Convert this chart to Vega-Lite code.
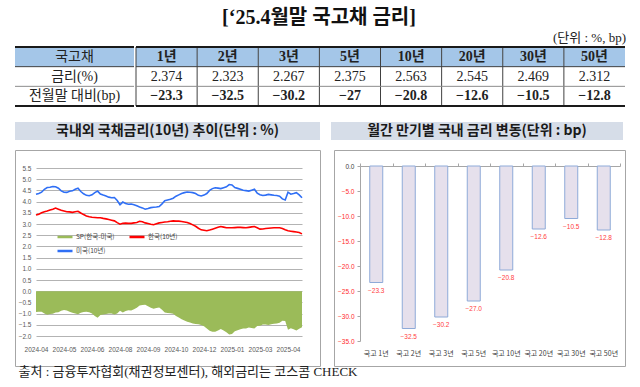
{
  "$schema": "https://vega.github.io/schema/vega-lite/v6.json",
  "background": "white",
  "padding": {"left": 14, "right": 18, "top": 0, "bottom": 0},
  "config": {"view": {"stroke": null}, "font": "Noto Sans CJK KR"},
  "datasets": {
    "rows": [{"r": "국고채"}, {"r": "금리(%)"}, {"r": "전월말 대비(bp)"}],
    "rates": [
      {"m": "1년", "rate": 2.374, "bp": -23.3},
      {"m": "2년", "rate": 2.323, "bp": -32.5},
      {"m": "3년", "rate": 2.267, "bp": -30.2},
      {"m": "5년", "rate": 2.375, "bp": -27},
      {"m": "10년", "rate": 2.563, "bp": -20.8},
      {"m": "20년", "rate": 2.545, "bp": -12.6},
      {"m": "30년", "rate": 2.469, "bp": -10.5},
      {"m": "50년", "rate": 2.312, "bp": -12.8}
    ],
    "ts": [
      {"d": "2024-04-01", "kr": 3.40, "us": 4.33, "sp": -0.93},
      {"d": "2024-04-05", "kr": 3.44, "us": 4.36, "sp": -0.92},
      {"d": "2024-04-09", "kr": 3.50, "us": 4.42, "sp": -0.92},
      {"d": "2024-04-13", "kr": 3.55, "us": 4.55, "sp": -1.00},
      {"d": "2024-04-18", "kr": 3.58, "us": 4.63, "sp": -1.05},
      {"d": "2024-04-22", "kr": 3.62, "us": 4.64, "sp": -1.02},
      {"d": "2024-04-26", "kr": 3.66, "us": 4.67, "sp": -1.01},
      {"d": "2024-04-30", "kr": 3.71, "us": 4.66, "sp": -0.95},
      {"d": "2024-05-04", "kr": 3.66, "us": 4.60, "sp": -0.94},
      {"d": "2024-05-08", "kr": 3.61, "us": 4.48, "sp": -0.87},
      {"d": "2024-05-12", "kr": 3.58, "us": 4.42, "sp": -0.84},
      {"d": "2024-05-17", "kr": 3.55, "us": 4.41, "sp": -0.86},
      {"d": "2024-05-21", "kr": 3.54, "us": 4.46, "sp": -0.92},
      {"d": "2024-05-25", "kr": 3.52, "us": 4.48, "sp": -0.96},
      {"d": "2024-05-29", "kr": 3.55, "us": 4.55, "sp": -1.00},
      {"d": "2024-06-02", "kr": 3.57, "us": 4.60, "sp": -1.03},
      {"d": "2024-06-06", "kr": 3.49, "us": 4.45, "sp": -0.96},
      {"d": "2024-06-10", "kr": 3.42, "us": 4.35, "sp": -0.93},
      {"d": "2024-06-15", "kr": 3.36, "us": 4.28, "sp": -0.92},
      {"d": "2024-06-19", "kr": 3.32, "us": 4.26, "sp": -0.94},
      {"d": "2024-06-23", "kr": 3.30, "us": 4.30, "sp": -1.00},
      {"d": "2024-06-27", "kr": 3.29, "us": 4.40, "sp": -1.11},
      {"d": "2024-07-01", "kr": 3.28, "us": 4.47, "sp": -1.19},
      {"d": "2024-07-05", "kr": 3.28, "us": 4.34, "sp": -1.06},
      {"d": "2024-07-10", "kr": 3.25, "us": 4.29, "sp": -1.04},
      {"d": "2024-07-14", "kr": 3.23, "us": 4.25, "sp": -1.02},
      {"d": "2024-07-18", "kr": 3.20, "us": 4.20, "sp": -1.00},
      {"d": "2024-07-22", "kr": 3.17, "us": 4.17, "sp": -1.00},
      {"d": "2024-07-26", "kr": 3.14, "us": 4.18, "sp": -1.04},
      {"d": "2024-07-30", "kr": 3.06, "us": 4.05, "sp": -0.99},
      {"d": "2024-08-03", "kr": 2.99, "us": 3.86, "sp": -0.87},
      {"d": "2024-08-08", "kr": 3.03, "us": 3.98, "sp": -0.95},
      {"d": "2024-08-12", "kr": 3.04, "us": 3.92, "sp": -0.88},
      {"d": "2024-08-16", "kr": 3.03, "us": 3.88, "sp": -0.85},
      {"d": "2024-08-20", "kr": 3.03, "us": 3.89, "sp": -0.86},
      {"d": "2024-08-24", "kr": 3.05, "us": 3.86, "sp": -0.81},
      {"d": "2024-08-28", "kr": 3.07, "us": 3.81, "sp": -0.74},
      {"d": "2024-09-01", "kr": 3.12, "us": 3.76, "sp": -0.64},
      {"d": "2024-09-06", "kr": 3.10, "us": 3.72, "sp": -0.62},
      {"d": "2024-09-10", "kr": 3.05, "us": 3.66, "sp": -0.61},
      {"d": "2024-09-14", "kr": 3.02, "us": 3.69, "sp": -0.67},
      {"d": "2024-09-18", "kr": 2.99, "us": 3.73, "sp": -0.74},
      {"d": "2024-09-22", "kr": 2.97, "us": 3.75, "sp": -0.78},
      {"d": "2024-09-26", "kr": 3.01, "us": 3.76, "sp": -0.75},
      {"d": "2024-09-30", "kr": 3.05, "us": 3.78, "sp": -0.73},
      {"d": "2024-10-05", "kr": 3.07, "us": 3.90, "sp": -0.83},
      {"d": "2024-10-09", "kr": 3.09, "us": 4.04, "sp": -0.95},
      {"d": "2024-10-13", "kr": 3.10, "us": 4.07, "sp": -0.97},
      {"d": "2024-10-17", "kr": 3.12, "us": 4.10, "sp": -0.98},
      {"d": "2024-10-21", "kr": 3.14, "us": 4.15, "sp": -1.01},
      {"d": "2024-10-25", "kr": 3.13, "us": 4.24, "sp": -1.11},
      {"d": "2024-10-29", "kr": 3.13, "us": 4.30, "sp": -1.17},
      {"d": "2024-11-03", "kr": 3.11, "us": 4.36, "sp": -1.25},
      {"d": "2024-11-07", "kr": 3.09, "us": 4.40, "sp": -1.31},
      {"d": "2024-11-11", "kr": 3.07, "us": 4.43, "sp": -1.36},
      {"d": "2024-11-15", "kr": 3.02, "us": 4.42, "sp": -1.40},
      {"d": "2024-11-19", "kr": 2.96, "us": 4.40, "sp": -1.44},
      {"d": "2024-11-23", "kr": 2.90, "us": 4.36, "sp": -1.46},
      {"d": "2024-11-28", "kr": 2.81, "us": 4.28, "sp": -1.47},
      {"d": "2024-12-02", "kr": 2.74, "us": 4.25, "sp": -1.51},
      {"d": "2024-12-06", "kr": 2.72, "us": 4.29, "sp": -1.57},
      {"d": "2024-12-10", "kr": 2.70, "us": 4.36, "sp": -1.66},
      {"d": "2024-12-14", "kr": 2.73, "us": 4.50, "sp": -1.77},
      {"d": "2024-12-18", "kr": 2.77, "us": 4.58, "sp": -1.81},
      {"d": "2024-12-22", "kr": 2.81, "us": 4.62, "sp": -1.81},
      {"d": "2024-12-27", "kr": 2.85, "us": 4.60, "sp": -1.75},
      {"d": "2024-12-31", "kr": 2.89, "us": 4.58, "sp": -1.69},
      {"d": "2025-01-04", "kr": 2.86, "us": 4.62, "sp": -1.76},
      {"d": "2025-01-08", "kr": 2.83, "us": 4.66, "sp": -1.83},
      {"d": "2025-01-12", "kr": 2.83, "us": 4.76, "sp": -1.93},
      {"d": "2025-01-16", "kr": 2.83, "us": 4.74, "sp": -1.91},
      {"d": "2025-01-20", "kr": 2.84, "us": 4.63, "sp": -1.79},
      {"d": "2025-01-25", "kr": 2.85, "us": 4.59, "sp": -1.74},
      {"d": "2025-01-29", "kr": 2.85, "us": 4.55, "sp": -1.70},
      {"d": "2025-02-03", "kr": 2.84, "us": 4.51, "sp": -1.67},
      {"d": "2025-02-07", "kr": 2.83, "us": 4.49, "sp": -1.66},
      {"d": "2025-02-12", "kr": 2.85, "us": 4.47, "sp": -1.62},
      {"d": "2025-02-16", "kr": 2.87, "us": 4.51, "sp": -1.64},
      {"d": "2025-02-21", "kr": 2.89, "us": 4.55, "sp": -1.66},
      {"d": "2025-02-25", "kr": 2.83, "us": 4.38, "sp": -1.55},
      {"d": "2025-03-02", "kr": 2.77, "us": 4.31, "sp": -1.54},
      {"d": "2025-03-06", "kr": 2.78, "us": 4.27, "sp": -1.49},
      {"d": "2025-03-10", "kr": 2.80, "us": 4.29, "sp": -1.49},
      {"d": "2025-03-14", "kr": 2.81, "us": 4.32, "sp": -1.51},
      {"d": "2025-03-18", "kr": 2.82, "us": 4.30, "sp": -1.48},
      {"d": "2025-03-22", "kr": 2.83, "us": 4.28, "sp": -1.45},
      {"d": "2025-03-26", "kr": 2.83, "us": 4.27, "sp": -1.44},
      {"d": "2025-03-30", "kr": 2.83, "us": 4.24, "sp": -1.41},
      {"d": "2025-04-02", "kr": 2.80, "us": 4.12, "sp": -1.32},
      {"d": "2025-04-06", "kr": 2.74, "us": 4.07, "sp": -1.33},
      {"d": "2025-04-10", "kr": 2.70, "us": 4.42, "sp": -1.72},
      {"d": "2025-04-14", "kr": 2.68, "us": 4.33, "sp": -1.65},
      {"d": "2025-04-18", "kr": 2.66, "us": 4.36, "sp": -1.70},
      {"d": "2025-04-22", "kr": 2.64, "us": 4.40, "sp": -1.76},
      {"d": "2025-04-26", "kr": 2.62, "us": 4.30, "sp": -1.68},
      {"d": "2025-04-30", "kr": 2.56, "us": 4.17, "sp": -1.61}
    ]
  },
  "vconcat": [
    {
      "vconcat": [
        {
          "width": 608, "height": 30,
          "data": {"values": [{"t": "[‘25.4월말 국고채 금리]"}]},
          "mark": {"type": "text", "font": "Liberation Serif, Noto Sans CJK KR", "fontSize": 20, "fontWeight": "bold", "color": "#111", "dy": 3},
          "encoding": {"text": {"field": "t"}}
        },
        {
          "width": 608, "height": 16,
          "data": {"values": [{"t": "(단위 : %, bp)"}]},
          "mark": {"type": "text", "font": "Liberation Serif, Noto Sans CJK KR", "fontSize": 13, "align": "right", "color": "#222", "dx": 3},
          "encoding": {"text": {"field": "t"}, "x": {"value": "width"}}
        },
        {
          "hconcat": [
            {
              "width": 119, "height": 59,
              "data": {"name": "rows"},
              "layer": [
                {
                  "transform": [{"filter": "datum.r === '국고채'"}],
                  "mark": {"type": "rect", "fill": "#a4c6e8"},
                  "encoding": {
                    "y": {"field": "r", "type": "nominal", "sort": null, "axis": null, "scale": {"type": "band", "domain": ["국고채", "금리(%)", "전월말 대비(bp)"], "paddingInner": 0, "paddingOuter": 0}},
                    "x": {"value": 0}, "x2": {"value": "width"}
                  }
                },
                {
                  "mark": {"type": "text", "font": "Liberation Serif, Noto Sans CJK KR", "fontSize": 14, "color": "#222"},
                  "encoding": {
                    "y": {"field": "r", "type": "nominal", "sort": null},
                    "text": {"field": "r"},
                    "fontWeight": {"condition": {"test": "datum.r === '국고채'", "value": "bold"}, "value": "normal"}
                  }
                },
                {
                  "mark": {"type": "rule"},
                  "encoding": {
                    "y": {"field": "r", "type": "nominal", "sort": null, "bandPosition": 0},
                    "strokeWidth": {"condition": {"test": "datum.r === '국고채'", "value": 2}, "value": 1},
                    "color": {"condition": [{"test": "datum.r === '국고채'", "value": "#1a1a1a"}, {"test": "datum.r === '금리(%)'", "value": "#404040"}], "value": "#8c8c8c"}
                  }
                },
                {
                  "transform": [{"filter": "datum.r === '전월말 대비(bp)'"}],
                  "mark": {"type": "rule", "strokeWidth": 2, "color": "#1a1a1a"},
                  "encoding": {"y": {"field": "r", "type": "nominal", "sort": null, "bandPosition": 1}}
                }
              ]
            },
            {
              "width": 489, "height": 59,
              "layer": [
                {
                  "data": {"name": "rates"},
                  "mark": {"type": "rect", "fill": "#a4c6e8"},
                  "encoding": {
                    "x": {"field": "m", "type": "nominal", "sort": null, "axis": null, "scale": {"type": "band", "paddingInner": 0, "paddingOuter": 0}},
                    "y": {"datum": "국고채", "type": "nominal", "axis": null, "scale": {"type": "band", "domain": ["국고채", "금리(%)", "전월말 대비(bp)"], "paddingInner": 0, "paddingOuter": 0}}
                  }
                },
                {
                  "data": {"name": "rates"},
                  "mark": {"type": "text", "font": "Liberation Serif, Noto Sans CJK KR", "fontSize": 14, "fontWeight": "bold", "color": "#222"},
                  "encoding": {
                    "x": {"field": "m", "type": "nominal", "sort": null},
                    "y": {"datum": "국고채", "type": "nominal"},
                    "text": {"field": "m"}
                  }
                },
                {
                  "data": {"name": "rates"},
                  "mark": {"type": "text", "font": "Liberation Serif", "fontSize": 14, "color": "#222"},
                  "encoding": {
                    "x": {"field": "m", "type": "nominal", "sort": null},
                    "y": {"datum": "금리(%)", "type": "nominal"},
                    "text": {"field": "rate", "type": "quantitative", "format": ".3f"}
                  }
                },
                {
                  "data": {"name": "rates"},
                  "mark": {"type": "text", "font": "Liberation Serif", "fontSize": 14, "fontWeight": "bold", "color": "#222"},
                  "encoding": {
                    "x": {"field": "m", "type": "nominal", "sort": null},
                    "y": {"datum": "전월말 대비(bp)", "type": "nominal"},
                    "text": {"field": "bp", "type": "quantitative", "format": "~g"}
                  }
                },
                {
                  "data": {"name": "rates"},
                  "mark": {"type": "rule", "color": "#404040", "strokeWidth": 1},
                  "encoding": {"x": {"field": "m", "type": "nominal", "sort": null, "bandPosition": 0}}
                },
                {
                  "data": {"name": "rows"},
                  "mark": {"type": "rule"},
                  "encoding": {
                    "y": {"field": "r", "type": "nominal", "sort": null, "bandPosition": 0},
                    "strokeWidth": {"condition": {"test": "datum.r === '국고채'", "value": 2}, "value": 1},
                    "color": {"condition": [{"test": "datum.r === '국고채'", "value": "#1a1a1a"}, {"test": "datum.r === '금리(%)'", "value": "#404040"}], "value": "#8c8c8c"}
                  }
                },
                {
                  "data": {"name": "rows"},
                  "transform": [{"filter": "datum.r === '전월말 대비(bp)'"}],
                  "mark": {"type": "rule", "strokeWidth": 2, "color": "#1a1a1a"},
                  "encoding": {"y": {"field": "r", "type": "nominal", "sort": null, "bandPosition": 1}}
                }
              ]
            }
          ],
          "spacing": 0
        }
      ],
      "spacing": 0
    },
    {
      "vconcat": [
        {
          "hconcat": [
            {
              "width": 305, "height": 18,
              "view": {"fill": "#d6dde8", "stroke": null},
              "data": {"values": [{"t": "국내외 국채금리(10년) 추이(단위 : %)"}]},
              "mark": {"type": "text", "font": "Noto Sans CJK KR", "fontSize": 14, "fontWeight": "bold", "letterSpacing": 0.5, "color": "#1a1a1a"},
              "encoding": {"text": {"field": "t"}}
            },
            {
              "width": 292, "height": 18,
              "view": {"fill": "#d6dde8", "stroke": null},
              "data": {"values": [{"t": "월간 만기별 국내 금리 변동(단위 : bp)"}]},
              "mark": {"type": "text", "font": "Noto Sans CJK KR", "fontSize": 14, "fontWeight": "bold", "letterSpacing": 0.7, "color": "#1a1a1a"},
              "encoding": {"text": {"field": "t"}}
            }
          ],
          "spacing": 11
        },
        {
          "title": {"text": "출처 : 금융투자협회(채권정보센터), 해외금리는 코스콤 CHECK", "orient": "bottom", "anchor": "start", "offset": -1, "dx": 4, "font": "Liberation Serif, Noto Sans CJK KR", "fontSize": 13, "fontWeight": "normal", "color": "#222"},
          "hconcat": [
            {
              "width": 305, "height": 216,
              "view": {"stroke": "#a6a6a6", "strokeWidth": 1},
              "data": {"name": "ts"},
              "layer": [
                {
                  "mark": {"type": "area", "opacity": 1},
                  "encoding": {
                    "x": {"field": "d", "type": "ordinal", "sort": null,
                      "scale": {"type": "point", "padding": 0, "range": [21, 287]},
                      "axis": {"orient": "bottom", "offset": -30, "values": ["2024-04-01", "2024-05-12", "2024-06-23", "2024-08-03", "2024-09-14", "2024-10-25", "2024-12-06", "2025-01-16", "2025-03-02", "2025-04-10"], "labelExpr": "substring(datum.value, 0, 7)", "labelAngle": 0, "labelFont": "Liberation Sans", "labelFontSize": 6.5, "labelColor": "#595959", "labelPadding": 10, "labelOverlap": false, "domain": false, "ticks": false, "grid": false, "title": null}},
                    "y": {"field": "sp", "type": "quantitative",
                      "scale": {"domain": [-2, 5.5], "range": [186, 18], "nice": false, "zero": false},
                      "axis": {"orient": "left", "offset": -21, "values": [-2, -1.5, -1, -0.5, 0, 0.5, 1, 1.5, 2, 2.5, 3, 3.5, 4, 4.5, 5, 5.5], "format": ".1f", "labelFont": "Liberation Sans", "labelFontSize": 6.5, "labelColor": "#595959", "labelPadding": 5, "labelOverlap": false, "domain": false, "ticks": false, "grid": true, "gridColor": "#b3b3b3", "title": null}},
                    "color": {"datum": "SP(한국-미국)",
                      "scale": {"domain": ["SP(한국-미국)", "한국(10년)", "미국(10년)"], "range": ["#9bbb59", "#ff0000", "#2f6ff5"]},
                      "legend": {"orient": "none", "legendX": 41, "legendY": 228, "columns": 2, "direction": "horizontal", "values": ["SP(한국-미국)", "한국(10년)", "미국(10년)"], "title": null, "symbolType": "stroke", "symbolSize": 225, "symbolStrokeWidth": 2.5, "labelFont": "Noto Sans CJK KR", "labelFontSize": 6.5, "labelColor": "#404040", "labelOffset": 2, "columnPadding": 9, "rowPadding": 0,
                        "encode": {"symbols": {"update": {"strokeWidth": {"signal": "datum.value === 'SP(한국-미국)' ? 5 : 2.5"}}}}}}
                  }
                },
                {
                  "mark": {"type": "line", "strokeWidth": 1.6},
                  "encoding": {
                    "x": {"field": "d", "type": "ordinal", "sort": null},
                    "y": {"field": "kr", "type": "quantitative",
                      "axis": {"orient": "left", "offset": -21, "values": [-2, -1.5, -1, -0.5, 0, 0.5, 1, 1.5, 2, 2.5, 3, 3.5, 4, 4.5, 5, 5.5], "format": ".1f", "labelFont": "Liberation Sans", "labelFontSize": 6.5, "labelColor": "#595959", "labelPadding": 5, "labelOverlap": false, "domain": false, "ticks": false, "grid": true, "gridColor": "#b3b3b3", "title": null}},
                    "color": {"datum": "한국(10년)"}
                  }
                },
                {
                  "mark": {"type": "line", "strokeWidth": 1.6},
                  "encoding": {
                    "x": {"field": "d", "type": "ordinal", "sort": null},
                    "y": {"field": "us", "type": "quantitative",
                      "axis": {"orient": "left", "offset": -21, "values": [-2, -1.5, -1, -0.5, 0, 0.5, 1, 1.5, 2, 2.5, 3, 3.5, 4, 4.5, 5, 5.5], "format": ".1f", "labelFont": "Liberation Sans", "labelFontSize": 6.5, "labelColor": "#595959", "labelPadding": 5, "labelOverlap": false, "domain": false, "ticks": false, "grid": true, "gridColor": "#b3b3b3", "title": null}},
                    "color": {"datum": "미국(10년)"}
                  }
                }
              ]
            },
            {
              "width": 291, "height": 216,
              "view": {"stroke": "#a6a6a6", "strokeWidth": 1},
              "data": {"name": "rates"},
              "layer": [
                {
                  "mark": {"type": "bar", "fill": "#e6e0ec", "stroke": "#8eaad8", "strokeWidth": 1, "width": {"band": 0.4}},
                  "encoding": {
                    "x": {"field": "m", "type": "nominal", "sort": null,
                      "scale": {"type": "band", "paddingInner": 0, "paddingOuter": 0, "range": [26, 286]},
                      "axis": {"orient": "bottom", "offset": -25, "labelExpr": "'국고 ' + datum.label", "labelAngle": 0, "labelFont": "Noto Sans CJK KR", "labelFontSize": 7, "labelColor": "#404040", "labelPadding": 8, "labelOverlap": false, "domain": false, "ticks": false, "grid": false, "title": null}},
                    "y": {"field": "bp", "type": "quantitative",
                      "scale": {"domain": [-35, 0], "range": [191, 16], "nice": false},
                      "axis": {"orient": "left", "offset": -26, "values": [0, -5, -10, -15, -20, -25, -30, -35], "format": ".1f", "labelFont": "Liberation Sans", "labelFontSize": 6.5, "labelColor": {"condition": {"test": "datum.value < 0", "value": "#ff2a2a"}, "value": "#404040"}, "labelPadding": 3, "domain": true, "domainColor": "#a6a6a6", "ticks": true, "tickSize": 3, "tickColor": "#a6a6a6", "grid": false, "title": null}}
                  }
                },
                {
                  "mark": {"type": "text", "dy": 8, "fontSize": 6.5, "font": "Liberation Sans", "fill": "#ff4040"},
                  "encoding": {
                    "x": {"field": "m", "type": "nominal", "sort": null,
                      "axis": {"orient": "top", "offset": -16, "labels": false, "domain": true, "domainColor": "#a6a6a6", "ticks": true, "tickBand": "extent", "tickSize": 3, "tickColor": "#a6a6a6", "grid": false, "title": null}},
                    "y": {"field": "bp", "type": "quantitative", "axis": null},
                    "text": {"field": "bp", "type": "quantitative", "format": ".1f"}
                  }
                }
              ],
              "resolve": {"axis": {"x": "independent", "y": "independent"}}
            }
          ],
          "spacing": 12
        }
      ],
      "spacing": 9
    }
  ],
  "spacing": 15
}
